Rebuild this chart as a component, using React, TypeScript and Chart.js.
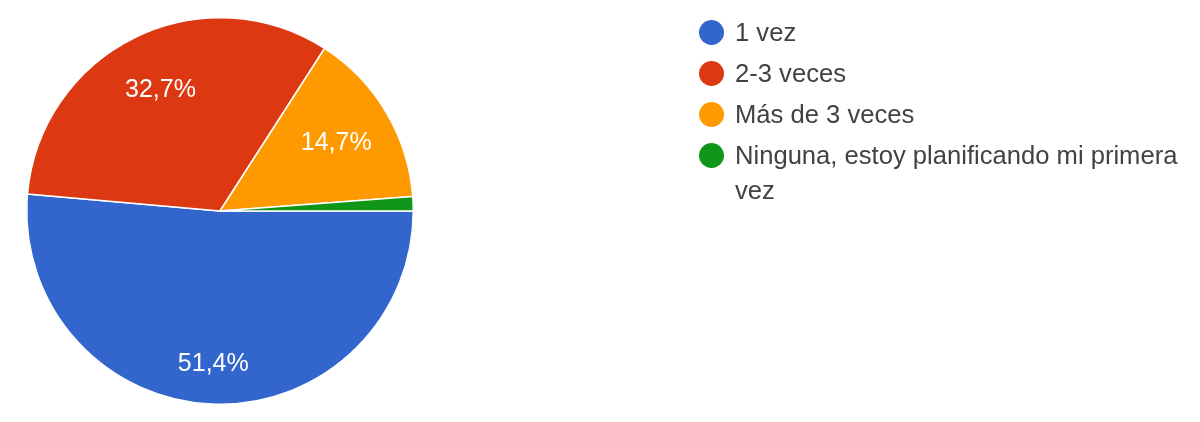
import { useEffect, useRef } from 'react'
import { Chart, registerables } from 'chart.js'
import type { Plugin } from 'chart.js'

Chart.register(...registerables)

const categories = ['1 vez', '2-3 veces', 'Más de 3 veces', 'Ninguna, estoy planificando mi primera vez']
const shares = [51.4, 32.7, 14.7, 1.2]
const sliceLabels = ['51,4%', '32,7%', '14,7%', '']
const colors = ['#3366cc', '#dc3912', '#ff9900', '#109618']

const FONT = '"Liberation Sans", Arial, sans-serif'

// percentage text inside each slice, pushed out from the centre a bit
const sliceText: Plugin<'pie'> = {
  id: 'sliceText',
  afterDatasetsDraw(chart) {
    const { ctx } = chart
    const meta = chart.getDatasetMeta(0)
    ctx.save()
    ctx.font = `25px ${FONT}`
    ctx.fillStyle = '#ffffff'
    ctx.textAlign = 'center'
    ctx.textBaseline = 'middle'
    meta.data.forEach((el, i) => {
      const text = sliceLabels[i]
      if (!text) return
      const arc = el as any
      const mid = (arc.startAngle + arc.endAngle) / 2
      const f = shares[i] > 50 ? 0.79 : 0.7
      const d = arc.outerRadius * f
      ctx.fillText(text, arc.x + Math.cos(mid) * d, arc.y + Math.sin(mid) * d + 1)
    })
    ctx.restore()
  },
}

export default function App() {
  const ref = useRef<HTMLCanvasElement>(null)

  useEffect(() => {
    document.body.style.margin = '0'
    if (!ref.current) return
    const chart = new Chart(ref.current, {
      type: 'pie',
      data: {
        labels: categories,
        datasets: [
          {
            data: shares,
            backgroundColor: colors,
            borderColor: '#ffffff',
            borderWidth: 1.5,
          },
        ],
      },
      options: {
        responsive: false,
        animation: false,
        rotation: 90,
        layout: { padding: { top: 17, bottom: 17, left: 26, right: 786 } },
        plugins: { legend: { display: false }, tooltip: { enabled: false } },
      },
      plugins: [sliceText],
    })
    return () => chart.destroy()
  }, [])

  return (
    <div style={{ position: 'relative', width: 1200, height: 422, background: '#fff', overflow: 'hidden' }}>
      <canvas ref={ref} width={1200} height={422} style={{ position: 'absolute', left: 0, top: 0 }} />
      <div style={{ position: 'absolute', left: 699, top: 15, width: 495, fontFamily: FONT, fontSize: 25.6, color: '#424242' }}>
        {categories.map((c, i) => (
          <div key={c} style={{ display: 'flex', alignItems: 'flex-start', marginBottom: 6 }}>
            <span
              style={{
                flex: '0 0 25px',
                width: 25,
                height: 25,
                borderRadius: '50%',
                background: colors[i],
                marginTop: 5,
                marginRight: 11,
              }}
            />
            <span style={{ lineHeight: '35px' }}>{c}</span>
          </div>
        ))}
      </div>
    </div>
  )
}
